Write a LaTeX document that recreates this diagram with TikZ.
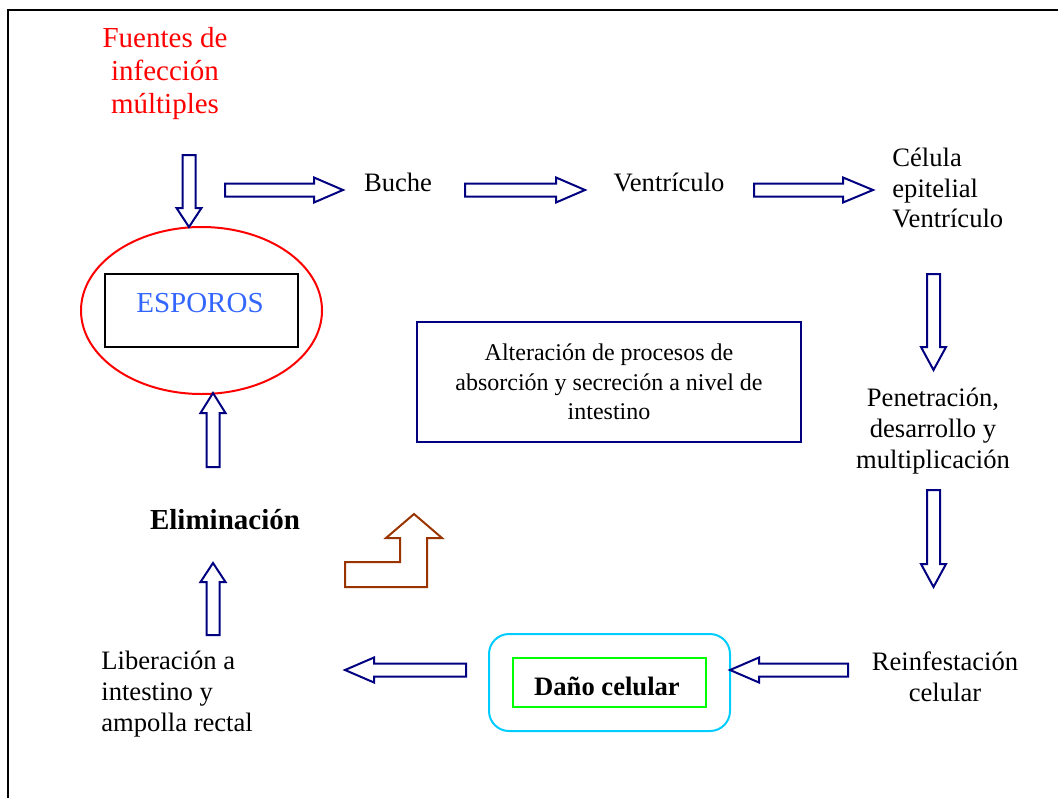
\documentclass[tikz,border=0pt]{standalone}
\usepackage{fontspec}
\setmainfont{Liberation Serif}
\definecolor{navyc}{RGB}{0,0,128}
\definecolor{brownc}{RGB}{153,51,0}
\definecolor{bluetxt}{RGB}{51,102,255}
\definecolor{cyanc}{RGB}{0,204,255}
\definecolor{greenc}{RGB}{0,255,0}
\newcommand{\arrR}[4]{\draw[barrow] (#1,#3-6.5) -- (#2-#4,#3-6.5) -- (#2-#4,#3-12.5) -- (#2,#3) -- (#2-#4,#3+12.5) -- (#2-#4,#3+6.5) -- (#1,#3+6.5) -- cycle;}
\newcommand{\arrL}[4]{\draw[barrow] (#1,#3-6.5) -- (#2+#4,#3-6.5) -- (#2+#4,#3-12.5) -- (#2,#3) -- (#2+#4,#3+12.5) -- (#2+#4,#3+6.5) -- (#1,#3+6.5) -- cycle;}
\newcommand{\arrD}[4]{\draw[barrow] (#3-6.5,#1) -- (#3-6.5,#2-#4) -- (#3-12.5,#2-#4) -- (#3,#2) -- (#3+12.5,#2-#4) -- (#3+6.5,#2-#4) -- (#3+6.5,#1) -- cycle;}
\newcommand{\arrU}[4]{\draw[barrow] (#3-6.5,#1) -- (#3-6.5,#2+#4) -- (#3-12.5,#2+#4) -- (#3,#2) -- (#3+12.5,#2+#4) -- (#3+6.5,#2+#4) -- (#3+6.5,#1) -- cycle;}
\tikzset{
  barrow/.style={draw=navyc, line width=1pt, fill=white, line join=miter},
  big/.style={font=\fontsize{14.5}{16.5}\selectfont, inner sep=0pt},
  mid/.style={font=\fontsize{13.3}{15.3}\selectfont, inner sep=0pt},
  small/.style={font=\fontsize{12}{14.75}\selectfont, inner sep=0pt},
}
\begin{document}
\begin{tikzpicture}[x=0.5pt, y=-0.5pt]
\useasboundingbox (0,0) rectangle (1058,797);
% frame
\draw[line width=1pt] (8,800) -- (8,10) -- (1060,10);
% texts
\node[big, text=red, align=center] (fuentes) at (165,74) {Fuentes de\\infección\\múltiples};
\node[mid] (buche) at (398,182) {Buche};
\node[mid] (ventr) at (669,182) {Ventrículo};
\node[mid, align=left, anchor=west] (celula) at (892,188) {Célula\\epitelial\\Ventrículo};
\node[mid, align=center] (penet) at (933,431) {Penetración,\\desarrollo y\\multiplicación};
\node[mid, align=center] (reinf) at (945,677) {Reinfestación\\celular};
\node[mid, align=left, anchor=west] (liber) at (101,694) {Liberación a\\intestino y\\ampolla rectal};
\node[big, font=\fontsize{14.5}{16.5}\selectfont\bfseries] (elim) at (225,520) {Eliminación};
% esporos
\draw[red, line width=1pt] (201.5,310.5) ellipse [x radius=120.5, y radius=83.5];
\node[draw=black, line width=1pt, minimum width=96.5pt, minimum height=36.5pt, inner sep=0pt] (espbox) at (201.5,310.5) {};
\node[big, text=bluetxt] (esporos) at (200,303) {ESPOROS};
% alteracion box
\node[draw=navyc, line width=1pt, minimum width=192pt, minimum height=60pt, inner sep=0pt] (altbox) at (609,382) {};
\node[small, align=center] (alt) at (609,382) {Alteración de procesos de\\absorción y secreción a nivel de\\intestino};
% dano
\draw[cyanc, line width=1pt, rounded corners=10pt] (489,634) rectangle (730,731);
\node[draw=greenc, line width=1pt, minimum width=96.5pt, minimum height=24.5pt, inner sep=0pt] (danobox) at (609.5,682.5) {};
\node[mid, font=\fontsize{13.3}{15.3}\selectfont\bfseries] (dano) at (607,686) {Daño celular};
% block arrows
\arrD{155}{227}{189}{19}
\arrR{225}{343}{190}{29}
\arrR{465}{585}{190}{29}
\arrR{754}{873}{190}{30}
\arrD{274}{370}{933.5}{23}
\arrD{490}{587}{933.5}{23}
\arrL{848}{730}{670}{29}
\arrL{466}{345}{670}{29}
\arrU{635}{563}{213}{19}
\arrU{467}{393}{213}{20}
% bent arrow
\draw[brownc, line width=1pt, line join=miter] (345,562) -- (400,562) -- (400,538) -- (386,538) -- (414,514) -- (442,538) -- (427,538) -- (427,587) -- (345,587) -- cycle;
\end{tikzpicture}
\end{document}
